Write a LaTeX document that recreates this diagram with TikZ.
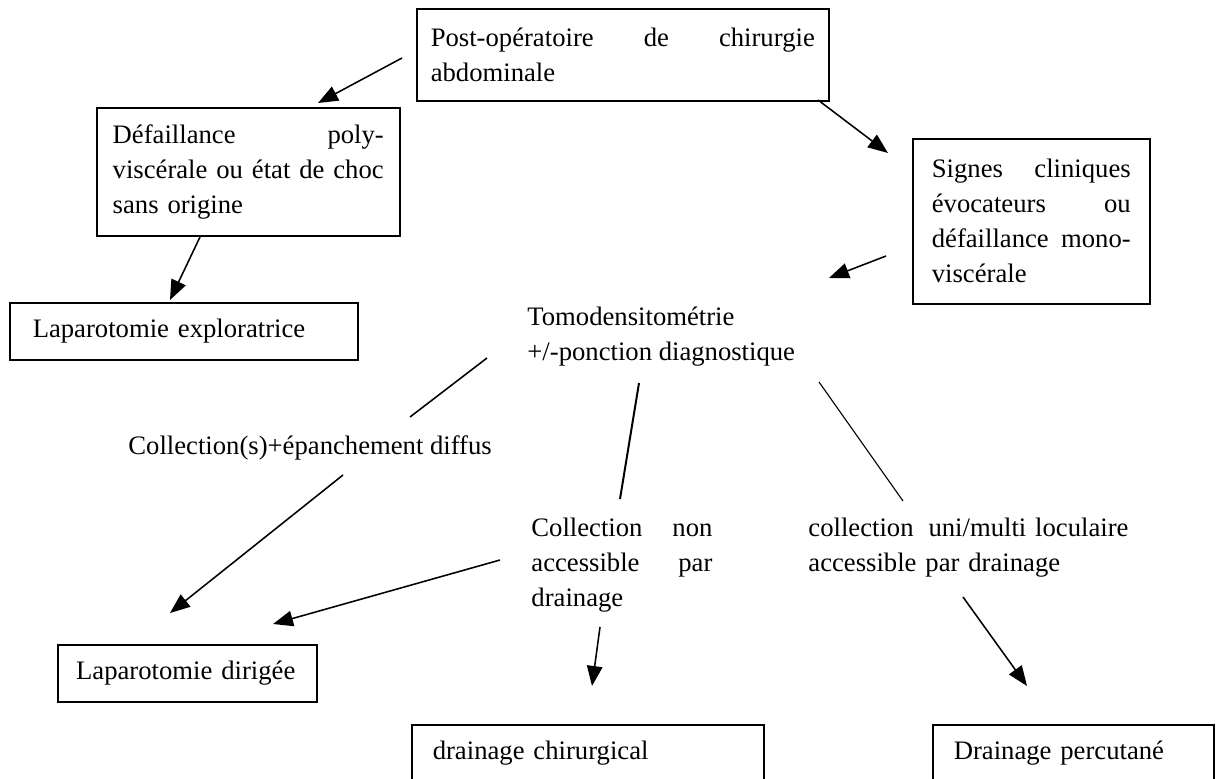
\documentclass[tikz,border=0pt]{standalone}
\usepackage{fontspec}
\setmainfont{Liberation Serif}
\usetikzlibrary{arrows.meta}

\begin{document}
\begin{tikzpicture}[x=0.45pt,y=-0.45pt,every node/.style={font=\fontsize{12}{15.75}\selectfont, inner sep=0pt},
	boxnode/.style={draw, line width=0.7pt, anchor=north west, align=left},
	textnode/.style={anchor=north west, align=left},
	arr/.style={line width=0.7pt, -{Triangle[length=9pt,width=7pt]}},
	link/.style={line width=0.7pt}]
	
	\useasboundingbox (0,0) rectangle (1216,778);
	
	\node[boxnode, text width=172.8pt, inner xsep=6.3pt, minimum height=41.4pt] (postop) at (416,8) {Post-opératoire\hfill de\hfill chirurgie\\abdominale};
	\node[boxnode, text width=122pt, inner xsep=7.175pt, minimum height=57.6pt] (defail) at (96,107) {Défaillance\hfill poly-\\\mbox{viscérale ou état de choc}\\sans origine};
	\node[boxnode, text width=135.9pt, inner xsep=10.35pt, minimum height=25.65pt] (explo) at (9,302) {Laparotomie exploratrice};
	\node[boxnode, text width=89.5pt, inner xsep=8.575pt, minimum height=74.25pt] (signes) at (912,138) {Signes\hfill cliniques\\évocateurs\hfill ou\\défaillance\hfill mono-\\viscérale};
	
	\node[textnode] (tomo) at (527,307) {Tomodensitométrie\\+/-ponction diagnostique};
	\node[textnode] (diffus) at (128,435) {Collection(s)+épanchement diffus};
	\node[textnode, text width=81.45pt] (nonacc) at (531,518) {Collection\hfill non\\accessible\hfill par\\drainage};
	\node[textnode, text width=144pt] (uniacc) at (808,518) {collection\hfill uni/multi loculaire\\accessible par drainage};
	
	\node[boxnode, text width=100pt, inner xsep=8.275pt, minimum height=25.65pt] (dirig) at (57,644) {Laparotomie dirigée};
	\node[boxnode, text width=139.5pt, inner xsep=9.45pt, minimum height=25.65pt] (chir) at (411,724) {drainage chirurgical};
	\node[boxnode, text width=107.55pt, inner xsep=9.45pt, minimum height=25.65pt] (percu) at (932,724) {Drainage percutané};
	
	% free ends of the connectors
	\coordinate (postopL) at (402,58);
	\coordinate (defailT) at (318,103);
	\coordinate (defailB) at (200,237);
	\coordinate (exploT) at (170,300);
	\coordinate (postopR) at (818,100);
	\coordinate (signesT) at (888,153);
	\coordinate (signesL) at (886,256);
	\coordinate (tomoR) at (829,278);
	\coordinate (tomoA) at (487,358);
	\coordinate (diffusT) at (410,417);
	\coordinate (diffusB) at (343,475);
	\coordinate (dirigA) at (170,613);
	\coordinate (tomoB) at (639,383);
	\coordinate (nonaccT) at (620,499);
	\coordinate (tomoC) at (819,382);
	\coordinate (uniaccT) at (903,501);
	\coordinate (nonaccL) at (500,560);
	\coordinate (dirigB) at (273,624);
	\coordinate (nonaccB) at (600,627);
	\coordinate (chirT) at (592,686);
	\coordinate (uniaccB) at (963,597);
	\coordinate (percuT) at (1027,686);
	
	\draw[arr] (postopL) -- (defailT);
	\draw[arr] (defailB) -- (exploT);
	\draw[arr] (postopR) -- (signesT);
	\draw[arr] (signesL) -- (tomoR);
	\draw[link] (tomoA) -- (diffusT);
	\draw[arr] (diffusB) -- (dirigA);
	\draw[link, line width=0.9pt] (tomoB) -- (nonaccT);
	\draw[link, line width=0.5pt] (tomoC) -- (uniaccT);
	\draw[arr] (nonaccL) -- (dirigB);
	\draw[arr] (nonaccB) -- (chirT);
	\draw[arr] (uniaccB) -- (percuT);
	
\end{tikzpicture}
\end{document}
